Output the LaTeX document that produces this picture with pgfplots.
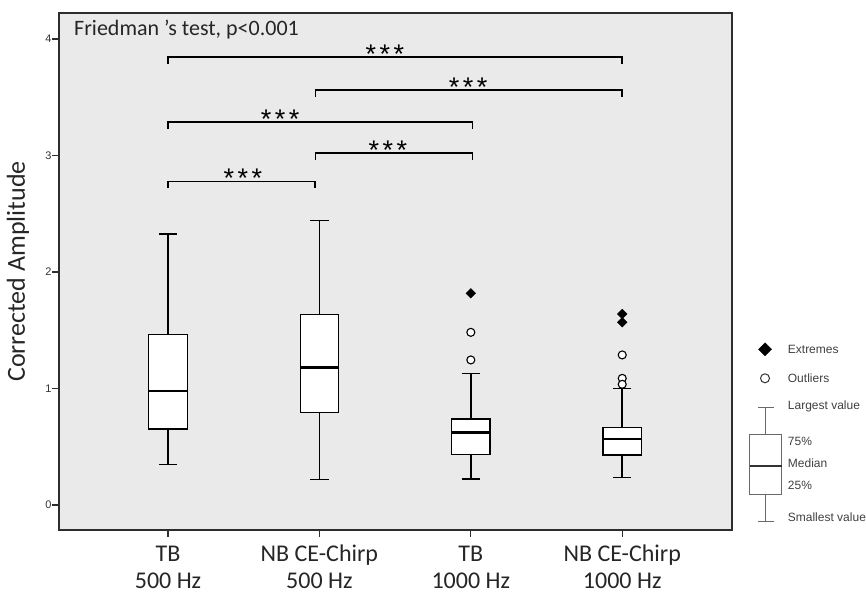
\documentclass[border=0pt]{standalone}
\usepackage{pgfplots}
\pgfplotsset{compat=1.18}
\usepgfplotslibrary{statistics}
\usetikzlibrary{calc}
\usepackage{fontspec}
\setmainfont{Carlito}
\newfontfamily\arial{Liberation Sans}
\definecolor{bg}{RGB}{234,234,234}
\definecolor{frame}{RGB}{45,45,45}
\definecolor{leg}{RGB}{105,105,105}
\newcommand{\stars}{{\arial\fontsize{27}{30}\selectfont *\kern3.5pt*\kern3.5pt*}}
\begin{document}
\begin{tikzpicture}
\begin{axis}[name=main, at={(0,0)}, anchor=south west,
  scale only axis, width=673pt, height=517pt,
  xmin=0.28, xmax=4.725, ymin=-0.2146, ymax=4.223,
  axis background/.style={fill=bg},
  axis line style={draw=frame, line width=1.3pt},
  tick align=outside, xtick pos=left, ytick pos=left,
  major tick length=7pt,
  major tick style={draw=frame, line width=1.2pt},
  xtick={1,2,3,4},
  xticklabels={{\strut TB\\\strut 500 Hz},{\strut NB CE-Chirp\\\strut 500 Hz},{\strut TB\\\strut 1000 Hz},{\strut NB CE-Chirp\\\strut 1000 Hz}},
  xticklabel style={align=center, font=\fontsize{24}{27}\selectfont, text=black!85, yshift=-2pt},
  ytick={0,1,2,3,4},
  yticklabel style={font=\arial\fontsize{11}{13}\selectfont, text=black!80, xshift=3pt},
  /pgf/number format/assume math mode=true,
  ylabel={Corrected Amplitude},
  ylabel style={at={(axis description cs:-0.0609,0.5)}, anchor=center, font=\fontsize{26}{30}\selectfont, text=black!85},
  boxplot/draw direction=y,
  boxplot/every box/.style={draw=black, fill=white, line width=1.2pt},
  boxplot/every whisker/.style={draw=black, line width=1.2pt},
  boxplot/every median/.style={draw=black, line width=2.4pt},
  boxplot/box extend=0.253,
  boxplot/whisker extend=0.121,
]
% box plots
\addplot[black, boxplot prepared={draw position=1, lower whisker=0.349, lower quartile=0.652, median=0.979, upper quartile=1.465, upper whisker=2.326}] coordinates {};
\addplot[black, boxplot prepared={draw position=2, lower whisker=0.220, lower quartile=0.796, median=1.179, upper quartile=1.637, upper whisker=2.444}] coordinates {};
\addplot[black, boxplot prepared={draw position=3, lower whisker=0.223, lower quartile=0.435, median=0.621, upper quartile=0.738, upper whisker=1.130}, boxplot/every whisker/.style={draw=black, line width=1.6pt}] coordinates {};
\addplot[black, boxplot prepared={draw position=4, lower whisker=0.235, lower quartile=0.429, median=0.567, upper quartile=0.667, upper whisker=0.999}, boxplot/every whisker/.style={draw=black, line width=1.6pt}] coordinates {};
% outliers
\addplot[only marks, mark=*, mark size=4pt, mark options={draw=black, fill=white, line width=1.1pt}] coordinates {(3,1.482) (3,1.245) (4,1.288) (4,1.087) (4,1.036)};
% extremes
\addplot[only marks, mark=square*, mark size=3.4pt, mark options={draw=black, fill=black, rotate=45}] coordinates {(3,1.817) (4,1.639) (4,1.568)};
% significance brackets
\addplot[black, line width=1.6pt, mark=none] coordinates {(1,3.787) (1,3.843) (4,3.843) (4,3.787)};
\addplot[black, line width=1.6pt, mark=none] coordinates {(1.975,3.506) (1.975,3.562) (4,3.562) (4,3.506)};
\addplot[black, line width=1.6pt, mark=none] coordinates {(1,3.229) (1,3.285) (3.01,3.285) (3.01,3.229)};
\addplot[black, line width=1.6pt, mark=none] coordinates {(1.975,2.963) (1.975,3.019) (3.01,3.019) (3.01,2.963)};
\addplot[black, line width=1.6pt, mark=none] coordinates {(1,2.719) (1,2.775) (1.97,2.775) (1.97,2.719)};
\node[anchor=base, inner sep=0pt, yshift=-6pt] at (axis cs:2.433,3.843) {\stars};
\node[anchor=base, inner sep=0pt, yshift=-6pt] at (axis cs:2.982,3.562) {\stars};
\node[anchor=base, inner sep=0pt, yshift=-6pt] at (axis cs:1.740,3.285) {\stars};
\node[anchor=base, inner sep=0pt, yshift=-6pt] at (axis cs:2.453,3.019) {\stars};
\node[anchor=base, inner sep=0pt, yshift=-6pt] at (axis cs:1.495,2.775) {\stars};
\node[anchor=west, inner sep=0pt, font=\fontsize{22}{26}\selectfont, text=black!85] at (rel axis cs:0.0223,0.9685) {Friedman ’s test, p<0.001};
\end{axis}
% legend drawn in a hidden axis whose units are pixels of the figure
\begin{axis}[at={($(main.south east)+(0,-71pt)$)}, anchor=south west,
  scale only axis, width=134pt, height=601pt,
  xmin=732, xmax=866, ymin=-601, ymax=0, hide axis, clip=false,
  boxplot/draw direction=y]
\addplot[leg, boxplot prepared={draw position=765.8, lower whisker=-521.7, lower quartile=-495, median=-466, upper quartile=-434.3, upper whisker=-407.3, box extend=31.7, whisker extend=15.4},
  boxplot/every box/.style={draw=leg, fill=white, line width=1pt},
  boxplot/every whisker/.style={draw=leg, line width=1pt},
  boxplot/every median/.style={draw=black!80, line width=1.4pt}] coordinates {};
\addplot[only marks, mark=square*, mark size=4.6pt, mark options={draw=black, fill=black, rotate=45}] coordinates {(765,-349.3)};
\addplot[only marks, mark=*, mark size=4.5pt, mark options={draw=black!80, fill=white, line width=1pt}] coordinates {(765,-378.3)};
\node[anchor=west, inner sep=0pt, font=\arial\fontsize{12}{14}\selectfont, text=black!75] at (axis cs:787.7,-349) {Extremes};
\node[anchor=west, inner sep=0pt, font=\arial\fontsize{12}{14}\selectfont, text=black!75] at (axis cs:787.7,-378) {Outliers};
\node[anchor=west, inner sep=0pt, font=\arial\fontsize{12}{14}\selectfont, text=black!75] at (axis cs:787.7,-406.7) {Largest value};
\node[anchor=west, inner sep=0pt, font=\arial\fontsize{12}{14}\selectfont, text=black!75] at (axis cs:787.7,-441.7) {75\%};
\node[anchor=west, inner sep=0pt, font=\arial\fontsize{12}{14}\selectfont, text=black!75] at (axis cs:787.7,-463.3) {Median};
\node[anchor=west, inner sep=0pt, font=\arial\fontsize{12}{14}\selectfont, text=black!75] at (axis cs:787.7,-485) {25\%};
\node[anchor=west, inner sep=0pt, font=\arial\fontsize{12}{14}\selectfont, text=black!75] at (axis cs:787.7,-517.3) {Smallest value};
\end{axis}
\pgfresetboundingbox
\path[use as bounding box] ($(main.south west)+(-59pt,-71pt)$) rectangle ($(main.north east)+(134pt,13pt)$);
\end{tikzpicture}
\end{document}
